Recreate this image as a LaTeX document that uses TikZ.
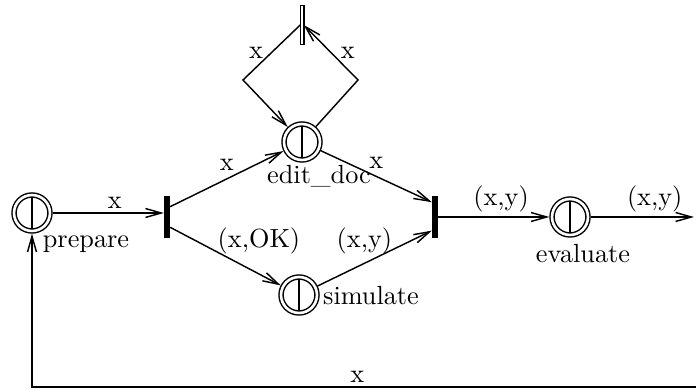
\documentclass[tikz,border=0pt]{standalone}
\usepackage{tikz}
\usetikzlibrary{arrows.meta}
\tikzset{
    lugar/.style={circle, draw, double, double distance=1pt, line width=0.55pt, minimum size=13.7pt, inner sep=0pt, outer sep=1pt,
        path picture={\draw[line width=0.55pt] ([yshift=-0.8pt]path picture bounding box.north) -- ([yshift=0.8pt]path picture bounding box.south);}},
    barra/.style={rectangle, fill=black, minimum width=2.4pt, minimum height=15.8pt, inner sep=0pt, outer sep=0pt},
    barra_abierta/.style={rectangle, draw, fill=white, line width=0.55pt, minimum width=1.35pt, minimum height=14.7pt, inner sep=0pt, outer sep=0pt},
    flecha/.style={-{Straight Barb[length=6pt, width=3.4pt]}, line width=0.55pt},
    etiqueta/.style={inner sep=1pt}
}

\begin{document}
\begin{tikzpicture}[x=0.381pt, y=-0.381pt]

    \useasboundingbox (0,0) rectangle (696,390);

    % 1. Lugares
    \node[lugar] (prepare) at (32,213) {};
    \node[lugar] (edit) at (302,142) {};
    \node[lugar] (simulate) at (299,295) {};
    \node[lugar] (evaluate) at (570,217) {};

    % Nombres de los lugares
    \node[etiqueta] (n_prepare) at (86,244) {prepare};
    \node[etiqueta] (n_edit) at (319,176) {edit\_doc};
    \node[etiqueta] (n_simulate) at (371,296) {simulate};
    \node[etiqueta] (n_evaluate) at (583,254) {evaluate};

    % 2. Transiciones
    \node[barra] (fork) at (167,217) {};
    \node[barra] (join) at (435,217) {};
    \node[barra_abierta] (top) at (302,25) {};

    % Puntos auxiliares (esquinas y extremos libres)
    \coordinate (esq_izq) at (243,80);
    \coordinate (esq_der) at (358,80);
    \coordinate (salida) at (694,217);
    \coordinate (retorno) at (696,387);

    % --- CONEXIONES ---
    \draw[flecha] (prepare) -- node[etiqueta, above=0.6pt, pos=0.56] (e_prep) {x} (prepare -| fork.west);

    % Del fork a los dos lugares
    \draw[flecha] (fork.73) -- node[etiqueta, above=1.8pt, midway] (e_edit) {x} (edit);
    \draw[flecha] (fork.-73) -- node[etiqueta, anchor=south west, pos=0.4, yshift=-2.5pt] (e_sim) {(x,OK)} (simulate);

    % De los dos lugares al join
    \draw[flecha] (edit) -- node[etiqueta, above=1.6pt, midway] (e_edit_join) {x} (join.102);
    \draw[flecha] (simulate) -- node[etiqueta, above=2.2pt, pos=0.41] (e_sim_join) {(x,y)} (join.-103);

    % Bucle de edit_doc
    \draw[flecha] (top.west) -- node[etiqueta, left=2pt] (e_loop_izq) {x} (esq_izq) -- (edit);
    \draw[flecha] (edit) -- (esq_der) -- node[etiqueta, right=2.5pt] (e_loop_der) {x} (top.east);

    % Salida y retorno
    \draw[flecha] (join.east) -- node[etiqueta, above=0.5pt, pos=0.565] (e_join_eval) {(x,y)} (evaluate);
    \draw[flecha] (evaluate) -- node[etiqueta, above=0.5pt, pos=0.62] (e_out) {(x,y)} (salida);
    \draw[flecha] (retorno) -| node[etiqueta, above=0.6pt, pos=0.255] (e_ret) {x} (prepare);

\end{tikzpicture}
\end{document}
